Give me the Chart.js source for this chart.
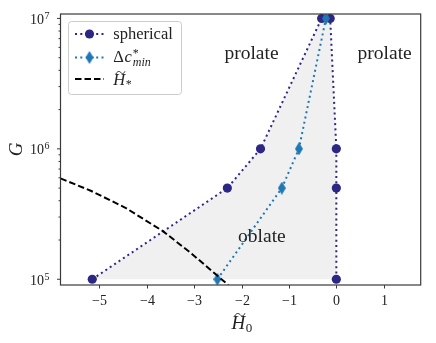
<!DOCTYPE html>
<html>
<head>
    <title>Phase diagram</title>
    <script src="https://cdn.jsdelivr.net/npm/chart.js"></script>
    <style>
        body { margin: 0; background: #fff; }
    </style>
</head>
<body>
    <canvas id="phaseChart" width="436" height="343"></canvas>

    <script>
        // spherical boundary (traced round the oblate region)
        var sphH0 = [-5.15, -2.3, -1.6, -0.31, -0.13, 0, 0, 0];
        var sphG  = [1e5, 5e5, 1e6, 1e7, 1e7, 1e6, 5e5, 1e5];
        // delta c*_min
        var dcH0 = [-2.51, -1.15, -0.79, -0.22];
        var dcG  = [1e5, 5e5, 1e6, 1e7];
        // H tilde star curve
        var hsH0 = [-5.82, -5.17, -4.46, -3.66, -3.06, -2.57, -2.28];
        var hsG  = [5.94e5, 4.75e5, 3.55e5, 2.34e5, 1.58e5, 1.11e5, 9.04e4];

        var xTicks = [-5, -4, -3, -2, -1, 0, 1];
        var yMajor = [5, 6, 7];           // exponents
        var notes = ['prolate', 'prolate', 'oblate'];
        var noteX = [-1.79, 1.02, -1.57];
        var noteY = [4.9e6, 4.9e6, 1.94e5];

        var sphColor = '#2c2785';
        var dcColor = '#1f77b4';
        var serif = '"Liberation Serif", "Times New Roman", serif';

        function pts(xs, ys) {
            return xs.map(function (x, i) { return { x: x, y: ys[i] }; });
        }

        // thin diamond marker like matplotlib 'd'
        function diamond(w, h, color) {
            var c = document.createElement('canvas');
            c.width = w; c.height = h;
            var g = c.getContext('2d');
            g.fillStyle = color;
            g.beginPath();
            g.moveTo(w / 2, 0); g.lineTo(w, h / 2); g.lineTo(w / 2, h); g.lineTo(0, h / 2);
            g.closePath();
            g.fill();
            return c;
        }
        var diamondImg = diamond(8, 13, dcColor);

        function tilde(g, cx, cy, w, h) {
            g.save();
            g.strokeStyle = '#222';
            g.lineWidth = 1;
            g.beginPath();
            g.moveTo(cx - w / 2, cy + h / 2);
            g.bezierCurveTo(cx - w / 4, cy - h * 1.1, cx, cy - h * 0.2, cx + 0.5, cy);
            g.bezierCurveTo(cx + 1, cy + h * 0.2, cx + w / 4, cy + h * 1.1, cx + w / 2, cy - h / 2);
            g.stroke();
            g.restore();
        }

        // italic H with tilde and a subscript
        function drawH(g, x, y, size, sub, subSize) {
            g.font = 'italic ' + size + 'px ' + serif;
            g.textAlign = 'left';
            g.fillText('H', x, y);
            var w = g.measureText('H').width;
            tilde(g, x + w * 0.6, y - size * 0.72, size * 0.55, size * 0.16);
            g.font = subSize + 'px ' + serif;
            g.fillText(sub, x + w + 0.5, y + size * 0.2);
        }

        var axesPlugin = {
            id: 'axesPlugin',
            afterDatasetsDraw: function (chart) {
                var g = chart.ctx, a = chart.chartArea;
                var xs = chart.scales.x, ys = chart.scales.y;
                g.save();
                g.fillStyle = '#222';

                // notes
                g.font = '19.5px ' + serif;
                g.textAlign = 'center';
                g.textBaseline = 'alphabetic';
                notes.forEach(function (t, i) {
                    g.fillText(t, xs.getPixelForValue(noteX[i]), ys.getPixelForValue(noteY[i]));
                });

                // frame
                g.strokeStyle = '#3a3a3a';
                g.lineWidth = 1.2;
                g.strokeRect(a.left, a.top, a.right - a.left, a.bottom - a.top);

                // x ticks
                g.lineWidth = 1;
                g.font = '14px ' + serif;
                xTicks.forEach(function (v) {
                    var px = Math.round(xs.getPixelForValue(v)) + 0.5;
                    g.beginPath(); g.moveTo(px, a.bottom); g.lineTo(px, a.bottom + 3.5); g.stroke();
                    g.textAlign = 'center';
                    g.fillText(v < 0 ? '\u2212' + Math.abs(v) : String(v), px, 305);
                });

                // y ticks (log)
                yMajor.forEach(function (e) {
                    var py = ys.getPixelForValue(Math.pow(10, e));
                    g.beginPath(); g.moveTo(a.left, py); g.lineTo(a.left - 3.5, py); g.stroke();
                    g.font = '10px ' + serif;
                    g.textAlign = 'right';
                    g.fillText(String(e), 49.5, py + 0.5);
                    var sw = g.measureText(String(e)).width;
                    g.font = '14px ' + serif;
                    g.fillText('10', 49.5 - sw - 0.5, py + 5.5);
                });
                [4, 5, 6].forEach(function (e) {
                    for (var m = 2; m <= 9; m++) {
                        var v = m * Math.pow(10, e);
                        if (v < ys.min || v > ys.max) continue;
                        var py = ys.getPixelForValue(v);
                        g.beginPath(); g.moveTo(a.left, py); g.lineTo(a.left - 2, py); g.stroke();
                    }
                });

                // axis titles
                g.save();
                g.translate(17, (a.top + a.bottom) / 2);
                g.rotate(-Math.PI / 2);
                g.font = 'italic 19px ' + serif;
                g.textAlign = 'center';
                g.textBaseline = 'middle';
                g.fillText('G', 0, 0);
                g.restore();
                g.textBaseline = 'alphabetic';
                drawH(g, 231.5, 328.5, 19, '0', 13);

                // legend
                var lx = 68.5, ly = 21.5, lw = 113, lh = 73;
                g.fillStyle = 'rgba(255,255,255,0.85)';
                g.strokeStyle = '#cccccc';
                g.lineWidth = 1;
                g.beginPath();
                g.roundRect(lx, ly, lw, lh, 3);
                g.fill(); g.stroke();

                var rows = [34, 57.5, 79];
                // handles
                g.lineWidth = 2;
                g.setLineDash([2, 3.3]);
                g.strokeStyle = sphColor;
                g.beginPath(); g.moveTo(75, rows[0]); g.lineTo(104, rows[0]); g.stroke();
                g.strokeStyle = dcColor;
                g.beginPath(); g.moveTo(75, rows[1]); g.lineTo(104, rows[1]); g.stroke();
                g.setLineDash([6.5, 3]);
                g.strokeStyle = '#000';
                g.beginPath(); g.moveTo(75, rows[2]); g.lineTo(104, rows[2]); g.stroke();
                g.setLineDash([]);
                g.fillStyle = sphColor;
                g.beginPath(); g.arc(89.5, rows[0], 4.6, 0, Math.PI * 2); g.fill();
                g.drawImage(diamondImg, 89.5 - 4, rows[1] - 6.5);

                // labels
                g.fillStyle = '#222';
                g.textAlign = 'left';
                g.font = '16.5px ' + serif;
                g.fillText('spherical', 113.3, rows[0] + 4.5);
                g.fillText('\u0394', 113.3, rows[1] + 4.5);
                var x0 = 113.3 + g.measureText('\u0394').width + 0.5;
                g.font = 'italic 16.5px ' + serif;
                g.fillText('c', x0, rows[1] + 4.5);
                x0 += g.measureText('c').width + 1;
                g.font = '12px ' + serif;
                g.fillText('*', x0, rows[1] - 0.5);
                g.font = 'italic 12px ' + serif;
                g.fillText('min', x0, rows[1] + 8);
                drawH(g, 113.3, rows[2] + 5.5, 16.5, '*', 12);

                g.restore();
            }
        };

        var ctx = document.getElementById('phaseChart').getContext('2d');
        var chart = new Chart(ctx, {
            type: 'scatter',
            data: {
                datasets: [{
                    label: 'spherical',
                    data: pts(sphH0, sphG),
                    showLine: true,
                    borderColor: sphColor,
                    borderWidth: 2,
                    borderDash: [2, 3.3],
                    backgroundColor: 'rgba(230,230,230,0.6)',
                    fill: 'shape',
                    pointBackgroundColor: sphColor,
                    pointBorderWidth: 0,
                    pointRadius: 4.6,
                    order: 3
                }, {
                    label: 'dc',
                    data: pts(dcH0, dcG),
                    showLine: true,
                    borderColor: dcColor,
                    borderWidth: 2,
                    borderDash: [2, 3.3],
                    pointStyle: diamondImg,
                    order: 2
                }, {
                    label: 'Hstar',
                    data: pts(hsH0, hsG),
                    showLine: true,
                    borderColor: '#000',
                    borderWidth: 2,
                    borderDash: [6.5, 3],
                    pointRadius: 0,
                    tension: 0,
                    order: 1
                }]
            },
            options: {
                responsive: false,
                animation: false,
                devicePixelRatio: 1,
                layout: { padding: { left: 60.5, right: 15.3, top: 14, bottom: 58 } },
                plugins: {
                    legend: { display: false },
                    tooltip: { enabled: false }
                },
                scales: {
                    x: { type: 'linear', min: -5.82, max: 1.78, display: false },
                    y: { type: 'logarithmic', min: Math.pow(10, 4.956), max: Math.pow(10, 7.034), display: false }
                }
            },
            plugins: [axesPlugin]
        });
    </script>
</body>
</html>
